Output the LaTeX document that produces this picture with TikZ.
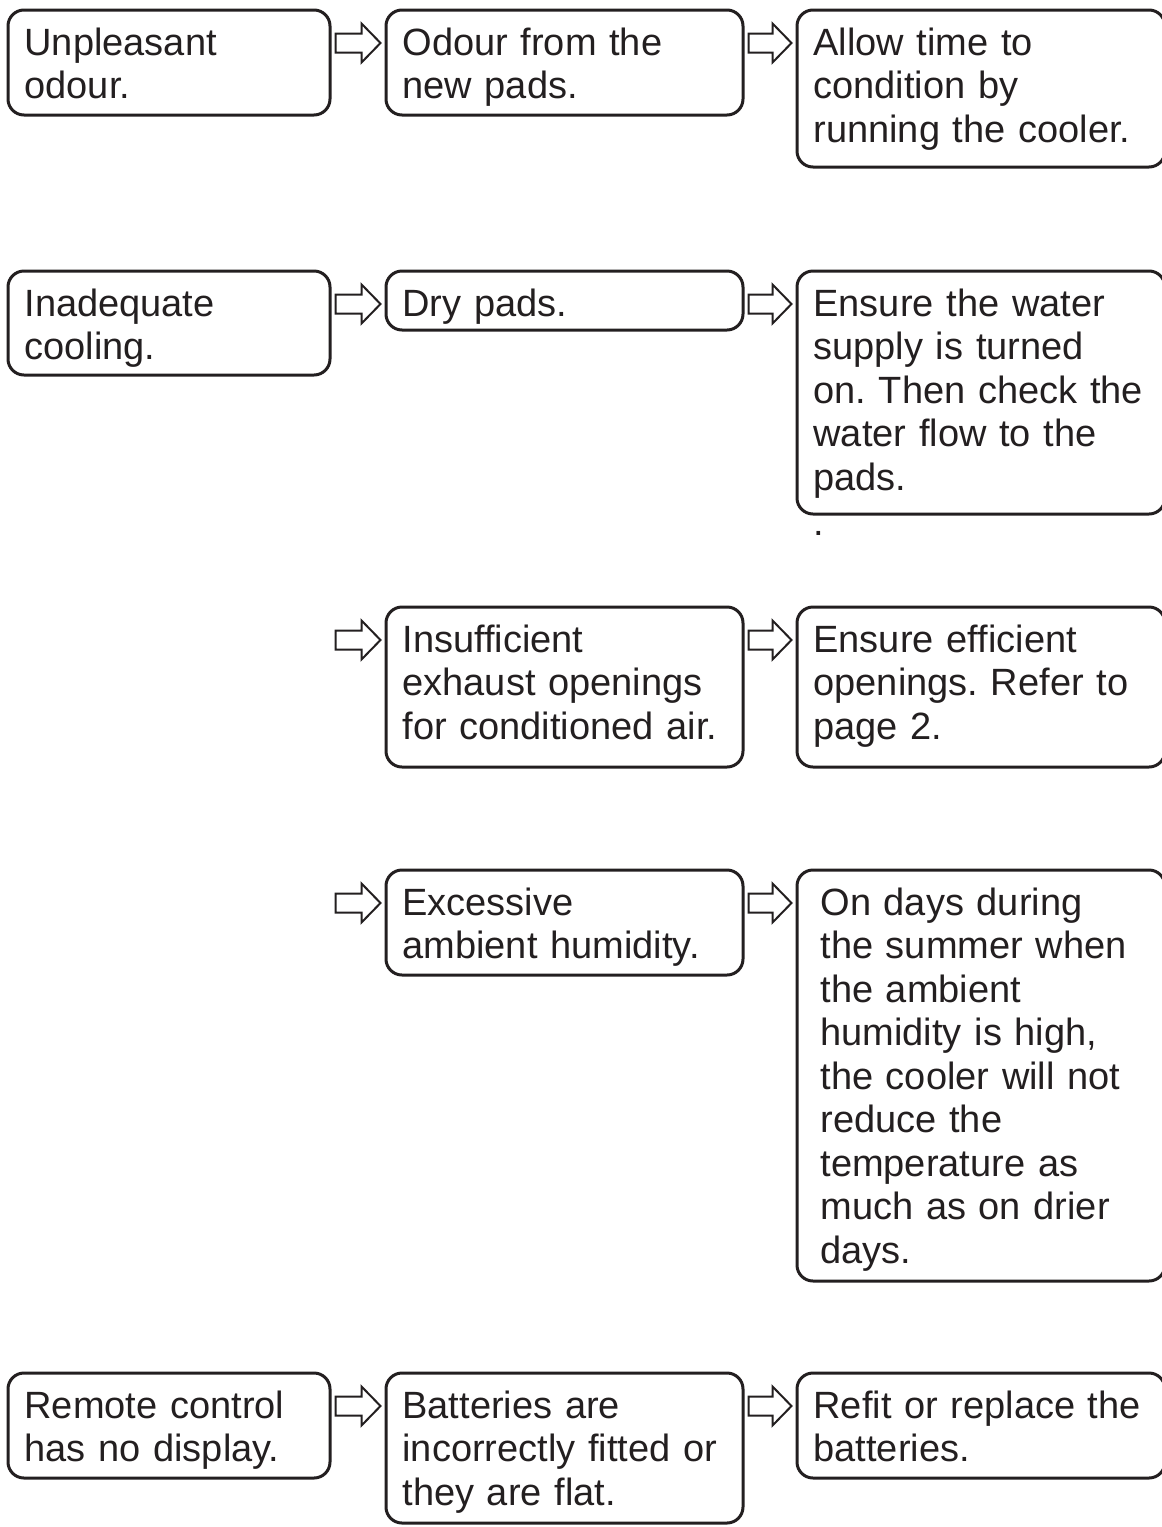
\documentclass[tikz,border=0pt]{standalone}
\usepackage{fontspec}
\setmainfont{Liberation Sans}
\usetikzlibrary{positioning, calc}

\frenchspacing
\definecolor{ink}{RGB}{35,31,32}
\newcommand\boxfont{\fontsize{19pt}{21.75pt}\selectfont}
% hollow block arrow: from the x of #1 to the left side of node #2
\newcommand\padarrow[2]{%
  \draw[arrow_line] let \p1=($(#1)+(2.75pt,0)$), \p2=($(#2.north west)+(-2.75pt,-16.5pt)$) in
    (\x1,\y2+4.75pt) -- (\x2-9.5pt,\y2+4.75pt) -- (\x2-9.5pt,\y2+9.75pt) -- (\x2,\y2)
    -- (\x2-9.5pt,\y2-9.75pt) -- (\x2-9.5pt,\y2-4.75pt) -- (\x1,\y2-4.75pt) -- cycle;}

\begin{document}
\begin{tikzpicture}[
    font=\boxfont,
    % Styles
    box/.style={draw=ink, line width=1.5pt, rounded corners=8pt, anchor=north west, align=left,
        inner xsep=8.25pt, inner ysep=0pt, outer sep=0pt, text height=22.5pt, text=ink},
    col_a/.style={box, text width=144.5pt},
    col_b/.style={box, text width=162pt},
    col_c/.style={box, text width=167.5pt},
    arrow_line/.style={draw=ink, line width=1pt, fill=white, line join=miter}
]
\useasboundingbox (0,0) rectangle (581pt,-763.5pt);

% 1. Unpleasant odour
\node[col_a, text depth=30pt] (odour) at (4pt,-5pt) {Unpleasant\\odour.};
\node[col_b, text depth=30pt, below right=0pt and 28pt of odour.north east] (newpads) {Odour from the\\new pads.};
\node[col_c, text depth=56pt, below right=0pt and 27pt of newpads.north east] (condition) {Allow time to\\condition by\\running the cooler.};

% 2. Inadequate cooling
\node[col_a, text depth=29.5pt] (cooling) at (4pt,-135.5pt) {Inadequate\\cooling.};
\node[col_b, text depth=7pt, below right=0pt and 28pt of cooling.north east] (drypads) {Dry pads.};
\node[col_c, text depth=99pt, below right=0pt and 27pt of drypads.north east] (water) {Ensure the water\\supply is turned\\on. Then check the\\water flow to the\\pads.};
\node[anchor=base west, inner sep=0pt, text=ink] (stray) at ($(water.south west)+(8.25pt,-10.5pt)$) {.};

% 3. Exhaust openings
\node[col_b, text depth=57.5pt] (exhaust) at (drypads.north west |- 0,-303.5pt) {Insufficient\\exhaust openings\\for conditioned air.};
\node[col_c, text depth=57.5pt, below right=0pt and 27pt of exhaust.north east] (openings) {Ensure efficient\\openings. Refer to\\page 2.};

% 4. Ambient humidity
\node[col_b, text depth=30pt] (humid) at (drypads.north west |- 0,-435pt) {Excessive\\ambient humidity.};
\node[col_c, text depth=183pt, inner xsep=11.75pt, text width=160.5pt, below right=0pt and 27pt of humid.north east] (summer) {On days during\\the summer when\\the ambient\\humidity is high,\\the cooler will not\\reduce the\\temperature as\\much as on drier\\days.};

% 5. Remote control
\node[col_a, text depth=30pt] (remote) at (4pt,-686.5pt) {Remote control\\has no display.};
\node[col_b, text depth=52.5pt, below right=0pt and 28pt of remote.north east] (batteries) {Batteries are\\incorrectly fitted or\\they are flat.};
\node[col_c, text depth=30pt, below right=0pt and 27pt of batteries.north east] (refit) {Refit or replace the\\batteries.};

% Arrows
\coordinate (free3) at (cooling.east |- exhaust.north);
\coordinate (free4) at (cooling.east |- humid.north);
\padarrow{odour.north east}{newpads}
\padarrow{newpads.north east}{condition}
\padarrow{cooling.north east}{drypads}
\padarrow{drypads.north east}{water}
\padarrow{free3}{exhaust}
\padarrow{exhaust.north east}{openings}
\padarrow{free4}{humid}
\padarrow{humid.north east}{summer}
\padarrow{remote.north east}{batteries}
\padarrow{batteries.north east}{refit}

\end{tikzpicture}
\end{document}
